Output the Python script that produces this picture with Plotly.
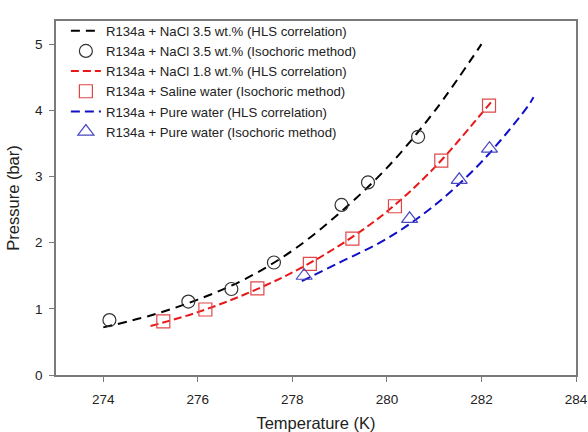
import plotly.graph_objects as go

# HLS correlation curves
t_hls_35 = [274.0, 275.0, 276.0, 277.0, 278.0, 279.0, 280.0, 281.0, 282.0]
p_hls_35 = [0.72, 0.90, 1.14, 1.45, 1.88, 2.45, 3.13, 3.98, 5.00]

t_hls_18 = [275.0, 276.0, 277.0, 278.0, 279.0, 280.0, 281.0, 282.0, 282.2]
p_hls_18 = [0.74, 0.95, 1.22, 1.55, 1.96, 2.47, 3.13, 3.95, 4.12]

t_hls_pure = [278.2, 279.0, 280.0, 281.0, 282.0, 283.0, 283.1]
p_hls_pure = [1.42, 1.70, 2.06, 2.56, 3.22, 4.08, 4.20]

# Isochoric method data
t_iso_35 = [274.13, 275.80, 276.71, 277.61, 279.04, 279.60, 280.66]
p_iso_35 = [0.83, 1.11, 1.30, 1.70, 2.57, 2.91, 3.60]

t_iso_saline = [275.27, 276.16, 277.26, 278.37, 279.27, 280.17, 281.15, 282.16]
p_iso_saline = [0.81, 0.99, 1.31, 1.68, 2.06, 2.55, 3.24, 4.07]

t_iso_pure = [278.25, 280.48, 281.53, 282.17]
p_iso_pure = [1.50, 2.36, 2.95, 3.42]

names = [
    "R134a + NaCl 3.5 wt.% (HLS correlation)",
    "R134a + NaCl 3.5 wt.% (Isochoric method)",
    "R134a + NaCl 1.8 wt.% (HLS correlation)",
    "R134a + Saline water (Isochoric method)",
    "R134a + Pure water (HLS correlation)",
    "R134a + Pure water (Isochoric method)",
]

x_ticks = [274, 276, 278, 280, 282, 284]
y_ticks = [0, 1, 2, 3, 4, 5]

fig = go.Figure()
fig.add_trace(go.Scatter(x=t_hls_35, y=p_hls_35, mode="lines", name=names[0],
                         line=dict(color="#000000", width=2, dash="9px,6px", shape="spline")))
fig.add_trace(go.Scatter(x=t_iso_35, y=p_iso_35, mode="markers", name=names[1],
                         marker=dict(symbol="circle-open", size=13, color="#333333",
                                     line=dict(width=1.2, color="#333333"))))
fig.add_trace(go.Scatter(x=t_hls_18, y=p_hls_18, mode="lines", name=names[2],
                         line=dict(color="#e81818", width=2, dash="8px,4px", shape="spline")))
fig.add_trace(go.Scatter(x=t_iso_saline, y=p_iso_saline, mode="markers", name=names[3],
                         marker=dict(symbol="square-open", size=13, color="#e04848",
                                     line=dict(width=1.2, color="#e04848"))))
fig.add_trace(go.Scatter(x=t_hls_pure, y=p_hls_pure, mode="lines", name=names[4],
                         line=dict(color="#1010c8", width=2, dash="9px,5px", shape="spline")))
fig.add_trace(go.Scatter(x=t_iso_pure, y=p_iso_pure, mode="markers", name=names[5],
                         marker=dict(symbol="triangle-up-open", size=14, color="#4848c0",
                                     line=dict(width=1.2, color="#4848c0"))))

axis_common = dict(showline=True, linecolor="#7a7a7a", linewidth=1.5, mirror=True,
                   ticks="outside", ticklen=5, tickcolor="#7a7a7a", tickwidth=1.2,
                   showgrid=False, zeroline=False, automargin=False,
                   tickfont=dict(family="Liberation Sans, Arial", size=13.5, color="#222222"))

fig.update_layout(
    width=588, height=432,
    margin=dict(l=56, r=12, t=21, b=57, autoexpand=False),
    paper_bgcolor="white", plot_bgcolor="white",
    font=dict(family="Liberation Sans, Arial", color="#222222"),
    xaxis=dict(range=[273, 284], tickvals=x_ticks, ticklabelstandoff=6,
               title=dict(text="Temperature (K)", font=dict(size=16.5), standoff=12),
               **axis_common),
    yaxis=dict(range=[0, 5.35], tickvals=y_ticks, ticklabelstandoff=4,
               title=dict(text="Pressure (bar)", font=dict(size=16.5), standoff=11),
               **axis_common),
    legend=dict(x=0.019, y=1.015, xanchor="left", yanchor="top",
                bgcolor="rgba(0,0,0,0)", borderwidth=0,
                font=dict(size=13.2, color="#222222"), tracegroupgap=0),
)

fig.write_html("out.html", config={"displayModeBar": False},
               post_script="document.body.style.margin='0';document.body.style.overflow='hidden';")
